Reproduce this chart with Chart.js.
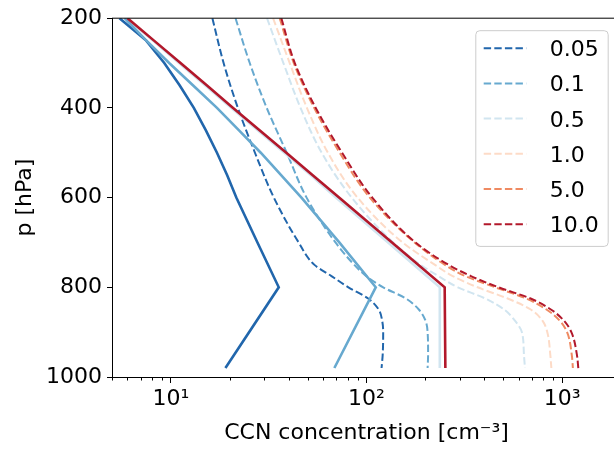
<!DOCTYPE html>
<html>
<head>
<meta charset="utf-8">
<title>CCN profiles</title>
<script src="https://cdn.jsdelivr.net/npm/chart.js@4.4.1/dist/chart.umd.min.js"></script>
<style>
  html, body { margin: 0; padding: 0; background: #fff; overflow: hidden; }
  #wrap { width: 624px; height: 450px; }
</style>
</head>
<body>
<div id="wrap"><canvas id="chart" width="624" height="450"></canvas></div>
<script>
/* ── CCN concentration profiles ───────────── */

// ── Data ──────────────────────────────────
const supersatLabels = ['0.05', '0.1', '0.5', '1.0', '5.0', '10.0'];
const lineColors = ['#2166ac', '#67a9cf', '#d1e5f0', '#fddbc7', '#ef8a62', '#b2182b'];

// pressure levels [hPa] for the dashed curves
const pLevels = [200, 300, 400, 500, 600, 700, 750, 775, 800, 825, 850, 875, 900, 950, 980];
const ccn005 = [16.3, 18.6, 22.0, 26.9, 33.6, 45.0, 54.2, 66.2, 80.8, 102, 115.6, 120.3, 121.7, 121, 119.4];
const ccn01  = [21.4, 25.3, 30.9, 39.1, 49.4, 69.4, 86.6, 99.7, 121.7, 159, 185.6, 200.5, 205.3, 206.5, 205.3];
const ccn05  = [31, 37.6, 46, 59, 84, 137, 189, 233, 293, 405, 507, 575, 623, 638, 646];
const ccn1   = [33.3, 40.5, 49.6, 63.5, 90, 153, 224, 276, 370, 527, 695, 795, 840, 870, 881];
const ccn5   = [36, 42.5, 54, 73, 104, 176, 252, 320, 455, 655, 835, 975, 1060, 1120, 1135];
const ccn10  = [36.7, 43, 55, 75, 107, 178, 263, 342, 473, 690, 880, 1025, 1115, 1190, 1210];
const dashedSeries = [ccn005, ccn01, ccn05, ccn1, ccn5, ccn10];

// pressure levels [hPa] for the solid profiles
const solidLevels = [200, 250, 300, 350, 400, 450, 500, 550, 600, 700, 800, 980];
const solidDarkBlue  = [5.46, 7.48, 9.25, 11.1, 13.1, 15.1, 17.2, 19.4, 21.6, 27.7, 35.6, 19.0];
const solidLightBlue = [5.8, 7.5, 9.8, 13.0, 17.2, 22.3, 28.8, 36.6, 46.5, 72.6, 111.5, 68.5];
const solidPale      = [5.9, 8.1, 11.0, 15.0, 20.4, 27.8, 38.0, 52.0, 69.8, 129, 237, 237];
const solidRed       = [6.0, 8.2, 11.2, 15.3, 20.8, 28.4, 38.9, 53.1, 72.4, 135, 251, 253];

const xTickValues = [5, 6, 7, 8, 9, 10, 20, 30, 40, 50, 60, 70, 80, 90,
  100, 200, 300, 400, 500, 600, 700, 800, 900, 1000, 2000];
const yTickValues = [200, 400, 600, 800, 1000];

const FONT = "'DejaVu Sans', sans-serif";
const SUP = { '0': '⁰', '1': '¹', '2': '²', '3': '³', '4': '⁴' };

function isDecade(v) {
  const l = Math.log10(v);
  return Math.abs(l - Math.round(l)) < 1e-9;
}

function toPoints(xs, levels) {
  return xs.map((x, i) => ({ x, y: levels[i] }));
}

// ── Datasets (first listed = bottom layer) ─
const layers = [];
dashedSeries.forEach((vals, i) => {
  layers.push({
    label: supersatLabels[i],
    data: toPoints(vals, pLevels),
    borderColor: lineColors[i],
    borderWidth: 2,
    borderDash: [7.4, 3.2],
    indexAxis: 'y',
    cubicInterpolationMode: 'monotone',
  });
});
[
  [solidPale, lineColors[2]],
  [solidDarkBlue, lineColors[0]],
  [solidLightBlue, lineColors[1]],
  [solidRed, lineColors[5]],
].forEach(([vals, col]) => {
  layers.push({
    label: '',
    data: toPoints(vals, solidLevels),
    borderColor: col,
    borderWidth: 2.6,
    tension: 0,
  });
});
layers.forEach((d, i) => {
  d.order = layers.length - i;
  d.showLine = true;
  d.pointRadius = 0;
  d.fill = false;
  d.borderCapStyle = 'butt';
});

// ── Extra drawing: top spine, minor ticks, legend ─
const extras = {
  id: 'extras',
  afterDraw(chart) {
    const { ctx, chartArea } = chart;
    const xs = chart.scales.x;
    ctx.save();

    // top spine
    ctx.strokeStyle = '#000';
    ctx.lineWidth = 1;
    ctx.beginPath();
    ctx.moveTo(chartArea.left, chartArea.top);
    ctx.lineTo(chartArea.right, chartArea.top);
    ctx.stroke();

    // minor x ticks
    xs.ticks.filter(t => !t.major).forEach(t => {
      const px = Math.round(xs.getPixelForValue(t.value)) + 0.5;
      ctx.beginPath();
      ctx.moveTo(px, chartArea.bottom);
      ctx.lineTo(px, chartArea.bottom + 3.5);
      ctx.stroke();
    });

    // legend
    const items = chart.data.datasets.filter(d => d.label);
    const boxW = 132.4, boxH = 215.7, rowH = 35.2;
    const bx = chartArea.right - 13.3 - boxW;
    const by = chartArea.top + 12;
    ctx.fillStyle = 'rgba(255,255,255,0.8)';
    ctx.strokeStyle = '#cccccc';
    ctx.lineWidth = 1;
    ctx.beginPath();
    ctx.roundRect(bx + 0.5, by + 0.5, boxW, boxH, 4);
    ctx.fill();
    ctx.stroke();

    ctx.font = `22px ${FONT}`;
    ctx.textBaseline = 'alphabetic';
    ctx.textAlign = 'left';
    items.forEach((d, i) => {
      const cy = by + 18 + i * rowH;
      ctx.strokeStyle = d.borderColor;
      ctx.lineWidth = d.borderWidth;
      ctx.setLineDash(d.borderDash);
      ctx.beginPath();
      ctx.moveTo(bx + 8.4, cy);
      ctx.lineTo(bx + 51, cy);
      ctx.stroke();
      ctx.setLineDash([]);
      ctx.fillStyle = '#000';
      ctx.fillText(d.label, bx + 74.4, cy + 8);
    });
    ctx.restore();
  },
};

// ── Chart ─────────────────────────────────
new Chart(document.getElementById('chart'), {
  type: 'scatter',
  data: { datasets: layers },
  options: {
    responsive: false,
    animation: false,
    layout: { padding: { top: 14, right: 0, bottom: 0, left: 0 } },
    plugins: {
      legend: { display: false },
      tooltip: { enabled: false },
    },
    scales: {
      x: {
        type: 'logarithmic',
        position: 'bottom',
        min: 5,
        max: 2000,
        afterBuildTicks: (scale) => {
          scale.ticks = xTickValues.map(v => ({ value: v, major: isDecade(v) }));
        },
        afterFit: (scale) => { scale.height = 73; },
        border: { display: true, color: '#000', width: 1 },
        grid: {
          drawOnChartArea: false,
          drawTicks: true,
          tickLength: 6,
          tickWidth: 1,
          tickColor: (c) => (c.tick && c.tick.major ? '#000' : 'rgba(0,0,0,0)'),
        },
        ticks: {
          autoSkip: false,
          maxRotation: 0,
          padding: 3,
          color: '#000',
          font: { family: FONT, size: 22 },
          callback: (v) => {
            if (!isDecade(v)) return '';
            const e = String(Math.round(Math.log10(v)));
            return '10' + e.split('').map(ch => SUP[ch]).join('');
          },
        },
        title: {
          display: true,
          text: 'CCN concentration [cm⁻³]',
          color: '#000',
          font: { family: FONT, size: 22 },
          padding: { top: 2, bottom: 4 },
        },
      },
      y: {
        type: 'linear',
        reverse: true,
        min: 200,
        max: 1000,
        afterBuildTicks: (scale) => {
          scale.ticks = yTickValues.map(v => ({ value: v }));
        },
        afterFit: (scale) => { scale.width = 112; },
        border: { display: true, color: '#000', width: 1 },
        grid: {
          drawOnChartArea: false,
          drawTicks: true,
          tickLength: 5,
          tickColor: '#000',
        },
        ticks: {
          padding: 5,
          color: '#000',
          font: { family: FONT, size: 22 },
          callback: (v) => String(v),
        },
        title: {
          display: true,
          text: 'p [hPa]',
          color: '#000',
          font: { family: FONT, size: 22 },
          padding: { top: 12, bottom: 0 },
        },
      },
    },
  },
  plugins: [extras],
});
</script>
</body>
</html>
